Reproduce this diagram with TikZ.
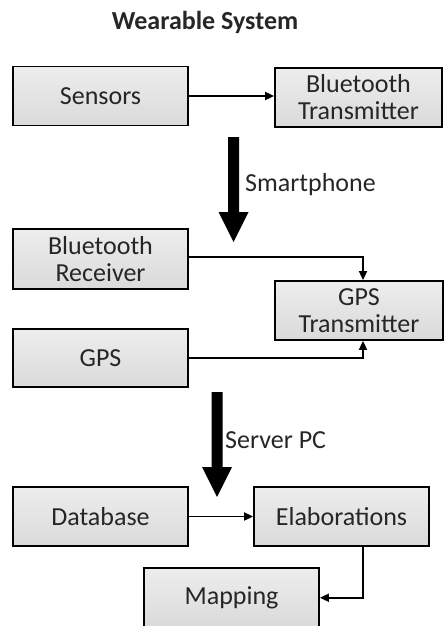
\documentclass[tikz,border=0pt]{standalone}
\usepackage{fontspec}
\setmainfont{Carlito}
\usetikzlibrary{arrows.meta,calc}
\definecolor{txt}{HTML}{262626}
\definecolor{boxtop}{HTML}{EDEDED}
\definecolor{boxbot}{HTML}{DADADA}
\tikzset{
  blk/.style={draw=black, line width=1.8pt, top color=boxtop, bottom color=boxbot,
    minimum width=175pt, minimum height=59pt, inner sep=0pt, align=center,
    font=\fontsize{26}{27}\selectfont, text=txt},
  conn/.style={line width=1.8pt, -{Triangle[length=9pt,width=8pt]}},
  lbl/.style={font=\fontsize{26}{27}\selectfont, text=txt, anchor=west, inner sep=0pt},
  bigarrow/.style={fill=black, draw=none}
}
\begin{document}
\begin{tikzpicture}[x=1pt,y=-1pt]
  \useasboundingbox (0,0) rectangle (445,626);
  \clip (0,0) rectangle (445,626);

  % title
  \node[font=\bfseries\fontsize{26}{27}\selectfont, text=txt] (title) at (205,22) {Wearable System};

  % wearable stage
  \node[blk] (sens) at (100.5,96) {Sensors};
  \node[blk, minimum width=167pt] (btx) at (358.5,97.5) {Bluetooth\\Transmitter};
  \draw[conn] (sens.east) -- (sens.east -| btx.west);

  % stage arrow: wearable -> smartphone
  \coordinate (a1) at (233.5,137);
  \fill[bigarrow] ($(a1)+(-5.5,0)$) -- ($(a1)+(5.5,0)$) -- ($(a1)+(5.5,75)$) -- ($(a1)+(15,75)$)
    -- ($(a1)+(0,105)$) -- ($(a1)+(-15,75)$) -- ($(a1)+(-5.5,75)$) -- cycle;
  \node[lbl] (phone) at (245,185) {Smartphone};

  % smartphone stage
  \coordinate (col) at (363,0);
  \node[blk, minimum height=60pt] (brx) at (100.5,259) {Bluetooth\\Receiver};
  \node[blk, minimum width=168pt] (gpstx) at (359,310.5) {GPS\\Transmitter};
  \node[blk, minimum height=58pt] (gps) at (100.5,358) {GPS};
  \draw[conn] ($(brx.east)+(0,-2)$) -| (gpstx.north -| col);
  \draw[conn] (gps.east) -| (gpstx.south -| col);

  % stage arrow: smartphone -> server
  \coordinate (a2) at (217,392);
  \fill[bigarrow] ($(a2)+(-5.5,0)$) -- ($(a2)+(5.5,0)$) -- ($(a2)+(5.5,75)$) -- ($(a2)+(15,75)$)
    -- ($(a2)+(0,105)$) -- ($(a2)+(-15,75)$) -- ($(a2)+(-5.5,75)$) -- cycle;
  \node[lbl] (server) at (225,440) {Server PC};

  % server stage
  \node[blk] (db) at (100.5,516.5) {Database};
  \node[blk] (elab) at (341.5,516.5) {Elaborations};
  \node[blk, minimum height=59.5pt] (map) at (231.5,597.75) {Mapping};
  \draw[conn] (db.east) -- (elab.west);
  \draw[conn] (elab.south -| col) |- (map.east);
\end{tikzpicture}
\end{document}
